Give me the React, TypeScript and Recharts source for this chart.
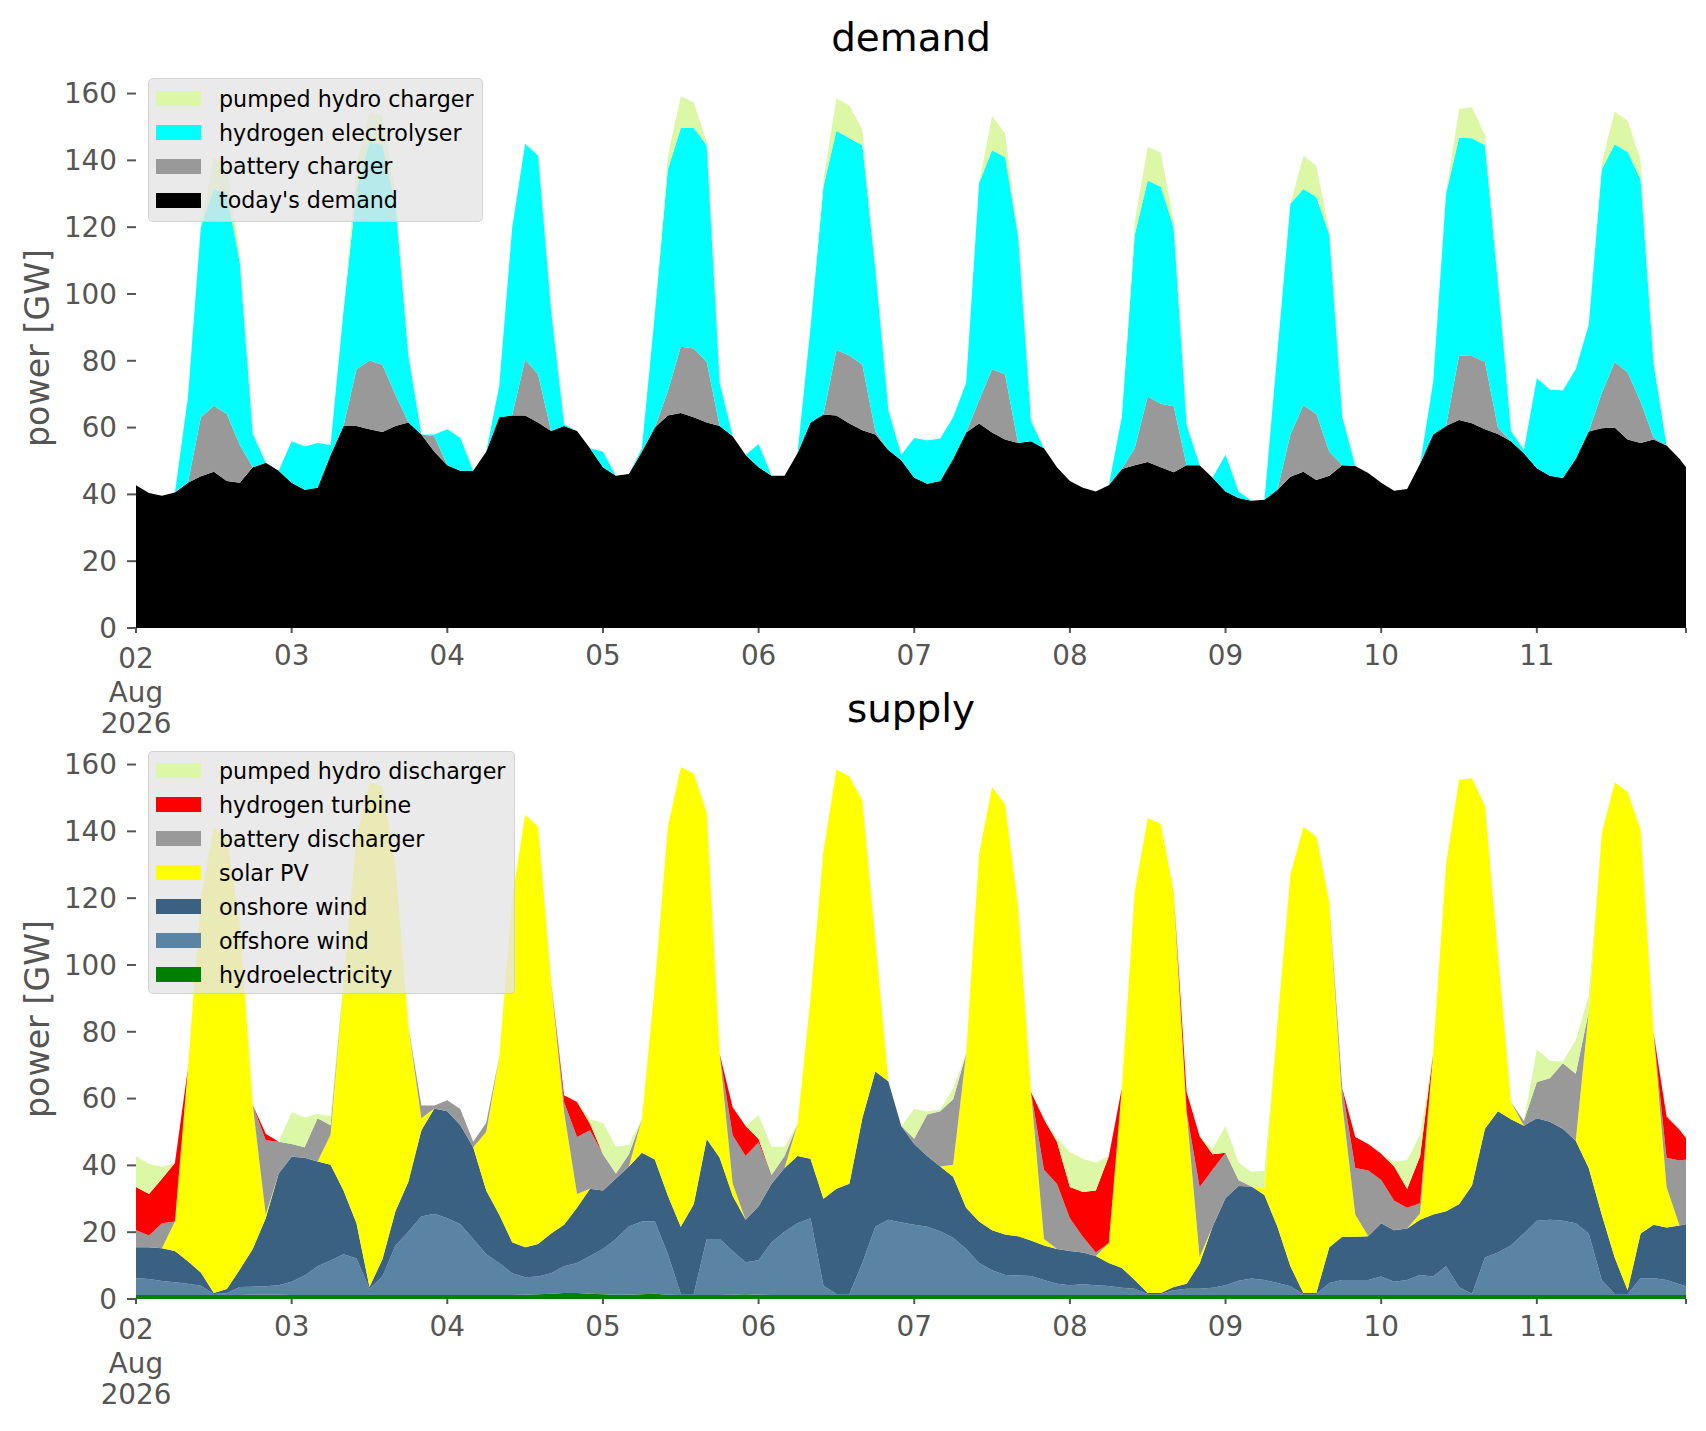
import React from 'react';
import { AreaChart, Area, XAxis, YAxis } from 'recharts';

// hourly samples (every 2 h) from 02 Aug 00:00 to 11 Aug 23:00
const hours = Array.from({ length: 120 }, (_, i) => i * 2).concat([239]);

const dayTicks = [0, 24, 48, 72, 96, 120, 144, 168, 192, 216, 239];
const dayLabels = ['02', '03', '04', '05', '06', '07', '08', '09', '10', '11', ''];
const firstTickExtra = ['Aug', '2026'];
const yTicks = [0, 20, 40, 60, 80, 100, 120, 140, 160];

// demand side [GW]
const todaysDemand = [
  42.7, 40.4, 39.6, 40.6, 43.5, 45.4, 46.8, 44, 43.5, 48.1,
  49.5, 47.1, 43.5, 41.4, 42, 51.8, 60.5, 60.5, 59.5, 58.7,
  60.5, 61.5, 57.9, 52.8, 48.7, 47.1, 47.1, 52.8, 63.1, 63.6,
  63.6, 61.5, 59, 60.5, 59, 53.8, 48.1, 45.6, 46.1, 52.8,
  60, 63.6, 64.4, 63.1, 61.5, 60.5, 57.4, 51.8, 48.1, 45.6,
  45.6, 52.3, 61.5, 63.9, 63.6, 61.2, 59.2, 57.9, 53.3, 50.2,
  45, 43.2, 44, 50.7, 58.5, 61.2, 58.5, 56.4, 55.4, 55.9,
  53.8, 48.1, 44, 42, 40.9, 42.7, 47.6, 48.7, 49.7, 48.1,
  46.6, 48.7, 48.7, 45, 40.9, 38.9, 38.1, 38.4, 41.4, 45.3,
  46.8, 44.3, 45.6, 48.7, 48.5, 46.4, 43.5, 41.1, 41.6, 49.2,
  57.9, 60.5, 62.3, 61.3, 59.5, 58.1, 55.9, 52.3, 47.8, 45.6,
  44.9, 50.7, 58.8, 59.8, 60, 56.4, 55.4, 56.4, 54.6, 50.7,
  48.1,
];
const batteryCharger = [
  0, 0, 0, 0, 0, 17.7, 19.7, 20.1, 11.3, 0,
  0, 0, 0, 0, 0, 0, 0, 17, 20.6, 20.1,
  9.3, 0, 0, 4.6, 0, 0, 0, 0, 0, 0,
  16.8, 14.5, 0, 0, 0, 0, 0, 0, 0, 0,
  0, 7.2, 19.8, 20.6, 18.1, 0, 0, 0, 0, 0,
  0, 0, 0, 0, 19.6, 20.4, 19.6, 1, 0, 0,
  0, 0, 0, 0, 0, 7, 19, 19.6, 0, 0,
  0, 0, 0, 0, 0, 0, 0, 5.1, 19.6, 19,
  19.8, 0, 0, 0, 0, 0, 0, 0, 0, 12.6,
  19.9, 19.8, 7.2, 0, 0, 0, 0, 0, 0, 0,
  0, 0, 19.3, 20.1, 20.1, 1.9, 0, 0, 0, 0,
  0, 0, 0, 10.5, 19.6, 20.1, 12.3, 0.6, 0, 0,
  0,
];
const electrolyser = [
  0, 0, 0, 0, 25.5, 57, 65, 65.9, 54.7, 10,
  0, 0, 12.4, 12.9, 13.4, 3, 34.5, 53.8, 65.5, 65.7,
  57.2, 20, 0, 0.5, 10.8, 9.8, 0, 0, 9.3, 56.2,
  64.6, 65.4, 36, 0.5, 0, 0, 4.7, 0, 0, 1,
  34, 66.5, 65.5, 66, 64.9, 12.9, 0, 0, 7, 0,
  0, 0, 28.4, 68.3, 65.7, 65, 65.7, 48.4, 11.9, 1.6,
  11.9, 12.9, 12.7, 12.4, 14.9, 65, 65.5, 64.9, 62, 6,
  0, 0, 0, 0, 0, 0, 15.5, 63.9, 64.7, 65,
  53.4, 12, 0, 0, 11, 2, 0, 0, 41.3, 69.1,
  64.7, 64.9, 64.9, 14.4, 0, 0, 0, 0, 0, 0,
  15.5, 69.5, 65.2, 65.2, 64.9, 43.3, 3.1, 1, 27, 25.7,
  26.2, 26.8, 32, 67, 65.2, 66, 66.5, 22.2, 0, 0,
  0,
];
const pumpedCharger = [
  0, 0, 0, 0, 0, 0, 9.5, 8, 3, 0,
  0, 0, 0, 0, 0, 0, 0, 7, 9, 9,
  3, 0, 0, 0, 0, 0, 0, 0, 0, 0,
  0, 0, 0, 0, 0, 0, 0, 0, 0, 0,
  0, 4, 9.5, 7.7, 1, 0, 0, 0, 0, 0,
  0, 0, 0, 2, 9.6, 9.8, 4.7, 0, 0, 0,
  0, 0, 0, 0, 0, 0, 10.3, 7.2, 0, 0,
  0, 0, 0, 0, 0, 0, 0, 4, 10, 10.3,
  2, 0, 0, 0, 0, 0, 0, 0, 0, 0,
  10, 9.4, 1, 0, 0, 0, 0, 0, 0, 0,
  0, 0, 8.6, 9.3, 3.1, 0, 0, 0, 0, 0,
  0, 0, 0, 2, 9.8, 9.3, 6, 1, 0, 0,
  0,
];

// supply side [GW]
const hydro = [
  1.2, 1.2, 1.2, 1.2, 1.2, 1.2, 1.2, 1.2, 1.2, 1.3,
  1.3, 1.3, 1.2, 1.2, 1.2, 1.2, 1.2, 1.2, 1.2, 1.2,
  1.2, 1.2, 1.2, 1.2, 1.2, 1.2, 1.2, 1.2, 1.2, 1.2,
  1.3, 1.4, 1.6, 1.8, 1.8, 1.6, 1.4, 1.3, 1.3, 1.4,
  1.6, 1.3, 1.2, 1.2, 1.2, 1.2, 1.3, 1.4, 1.3, 1.2,
  1.2, 1.2, 1.2, 1.2, 1.2, 1.2, 1.2, 1.2, 1.2, 1.2,
  1.2, 1.2, 1.2, 1.2, 1.2, 1.2, 1.2, 1.2, 1.2, 1.2,
  1.2, 1.2, 1.2, 1.2, 1.2, 1.2, 1.2, 1.2, 1.2, 1.2,
  1.2, 1.2, 1.2, 1.2, 1.2, 1.2, 1.2, 1.2, 1.2, 1.2,
  1.2, 1.2, 1.2, 1.2, 1.2, 1.2, 1.2, 1.2, 1.2, 1.2,
  1.2, 1.2, 1.2, 1.2, 1.2, 1.2, 1.2, 1.2, 1.2, 1.2,
  1.2, 1.2, 1.2, 1.2, 1.2, 1.2, 1.2, 1.2, 1.2, 1.2,
  1.2,
];
const offshoreWind = [
  5.0, 4.8, 4.2, 3.8, 3.4, 2.8, 0.3, 0.5, 2.4, 2.4,
  2.5, 2.8, 4.0, 5.8, 8.6, 10.3, 12.2, 10.9, 1.9, 5.5,
  14.8, 18.9, 23.5, 24.3, 23.0, 21.2, 16.8, 12.2, 9.6, 6.5,
  5.2, 5.3, 6.1, 8.0, 9.0, 11.3, 13.6, 16.7, 20.4, 21.8,
  21.6, 12.2, 0.3, 0.3, 16.8, 16.8, 13.1, 9.6, 10.3, 15.8,
  18.9, 21.5, 23.0, 2.8, 0.3, 0.3, 9.6, 20.4, 22.5, 21.7,
  21.0, 20.4, 19.1, 17.1, 13.8, 9.6, 7.4, 6.0, 5.8, 5.7,
  4.5, 3.4, 2.9, 3.2, 2.9, 2.7, 2.2, 1.9, 0.3, 0.3,
  1.4, 1.9, 1.9, 2.2, 2.9, 4.3, 4.9, 4.5, 3.6, 2.6,
  0.3, 0.3, 3.6, 4.5, 4.5, 4.5, 5.5, 4.0, 4.5, 6.0,
  5.5, 8.6, 2.4, 0.3, 11.2, 12.7, 14.8, 18.4, 22.2, 22.5,
  22.2, 21.5, 18.4, 4.5, 0.3, 0.3, 5.0, 5.0, 4.5, 3.2,
  2.6,
];
const onshoreWind = [
  9.3, 9.5, 9.8, 9.4, 6.7, 3.9, 0.3, 1.3, 5.2, 11.3,
  20.4, 33.5, 37.4, 35.3, 31.4, 28.7, 19.1, 10.6, 0.5, 5.2,
  10.3, 15, 25.8, 31.5, 32, 29.7, 27.4, 19.1, 14.5, 9.3,
  9, 9.8, 11.9, 12.4, 16.5, 20.1, 17.5, 18.1, 18, 20.6,
  18.6, 17.5, 20.1, 26.9, 29.9, 24.3, 16.5, 12.7, 16.2, 17.5,
  19.1, 20.1, 17.8, 26, 31.5, 33, 43.4, 46.5, 41.5, 28.9,
  24.2, 21.2, 19.4, 18.3, 12.3, 12.4, 12, 12.1, 11.8, 10.6,
  10.3, 10.4, 10.3, 9.5, 8.8, 6.9, 5.9, 2.6, 0.3, 0.3,
  1, 1.5, 7.5, 18.2, 26.1, 28.3, 27.6, 25.4, 16.8, 6,
  0.3, 0.3, 10.7, 12.9, 12.9, 13.1, 16, 15.4, 15.4, 16.5,
  18.6, 16.5, 24.8, 32.5, 38.6, 42.3, 37.8, 32.3, 30.7, 29.4,
  27.6, 24.7, 19.6, 19.6, 10.9, 1.1, 13.4, 16, 15.7, 17.6,
  18.6,
];
const solarPV = [
  0, 0, 0, 8.8, 57.7, 112.1, 139.5, 135, 103.7, 43.1,
  1, 0, 0, 0, 0, 9, 62.5, 115.6, 151, 141.7,
  103.7, 46.4, 3.6, 0, 0, 0, 0, 17.5, 47.1, 102.8,
  129.5, 124.9, 75.4, 33.8, 4.1, 0, 0, 0, 0, 10,
  52.2, 110.3, 137.6, 128.9, 97.7, 31.1, 3.6, 0, 0, 0,
  0, 9.5, 47.9, 104.2, 125.5, 121.9, 95, 39.2, 0, 0,
  0, 0, 0, 3.6, 46.1, 110, 132.7, 128.8, 98.9, 44.5,
  2, 0, 0, 0, 0, 6, 53.8, 116.2, 142.2, 140.5,
  118.3, 51.4, 2, 0, 0, 0, 0, 2, 61.1, 117.2,
  139.6, 136.6, 103.2, 39.6, 6.7, 0, 0, 0, 0, 2,
  48.1, 103.7, 127, 121.9, 96.6, 47.1, 5.2, 0, 0, 0,
  0, 0, 46.8, 114, 142.2, 149.2, 120.8, 57.4, 12.1, 0,
  0,
];
const batteryDischarger = [
  5.1, 3.5, 7.5, 0, 0, 0, 0, 0, 0, 0,
  22.3, 9.5, 3.8, 3.1, 12.9, 2.8, 0, 0, 0, 0,
  0, 0, 3.8, 0.9, 3.3, 4.8, 1.7, 2.8, 0, 0,
  0, 0, 0, 3, 17.1, 17.5, 10.8, 1.5, 3.6, 0,
  0, 0, 0, 0, 0, 0, 14.5, 19.1, 19.1, 2.6,
  3.6, 0, 0, 0, 0, 0, 0, 0, 0, 0,
  1.6, 12.4, 16.5, 19.6, 0, 0, 0, 0, 0, 0,
  20.7, 19.5, 9.8, 4.7, 1, 0, 0, 0, 0, 0,
  0, 0, 20.9, 17.1, 13.6, 1.8, 0, 0, 0, 0,
  0, 0, 0, 4.9, 13.9, 19.7, 12.9, 8.8, 6.2, 3,
  0, 0, 0, 0, 0, 0, 0, 1.4, 10.9, 13,
  19.6, 20, 0, 0, 0, 0, 0, 0, 8.8, 19.5,
  19.4,
];
const hydrogenTurbine = [
  12.9, 12.4, 13.3, 17.5, 0, 0, 0, 0, 0, 0,
  2, 0, 0, 0, 0, 0, 0, 0, 0, 0,
  0, 0, 0, 0, 0, 0, 0, 0, 0, 0,
  0, 0, 0, 2, 10.5, 2, 0, 0, 0, 0,
  0, 0, 0, 0, 0, 0, 8.4, 9, 1, 0,
  0, 0, 0, 0, 0, 0, 0, 0, 0, 0,
  0, 0, 0, 0, 0, 0, 0, 0, 0, 0,
  15.1, 12.6, 9.3, 13.4, 18.6, 25.9, 0, 0, 0, 0,
  0, 6, 15.2, 4.6, 0, 0, 0, 0, 0, 0,
  0, 0, 0, 0, 9.3, 7.9, 7.9, 10.3, 5.6, 14,
  0, 0, 0, 0, 0, 0, 0, 0, 0, 0,
  0, 0, 0, 0, 0, 0, 0, 0, 12.3, 9.2,
  6.3,
];
const pumpedDischarger = [
  9.3, 9, 3.6, 0, 0, 0, 0, 0, 0, 0,
  0, 0, 9.5, 8.9, 1.3, 2.8, 0, 0, 0, 0,
  0, 0, 0, 0, 0, 0, 0, 0, 0, 0,
  0, 0, 0, 0, 0, 1.3, 9.5, 8, 2.8, 0,
  0, 0, 0, 0, 0, 0, 0, 0, 7.2, 8.5,
  2.8, 0, 0, 0, 0, 0, 0, 0, 0, 0,
  8.9, 0.9, 0.5, 3.3, 0, 0, 0, 0, 0, 0,
  0, 1, 10.5, 10, 8.4, 0, 0, 0, 0, 0,
  0, 0, 0, 1.7, 8, 5.3, 4.4, 5.3, 0, 0,
  0, 0, 0, 0, 0, 0, 0, 1.4, 8.7, 6.5,
  0, 0, 0, 0, 0, 0, 0, 0, 9.8, 5.2,
  0.5, 10.1, 4.9, 0, 0, 0, 0, 0, 0, 0,
  0,
];

const demandData = hours.map((hour, i) => ({
  hour,
  demand: todaysDemand[i],
  battery: batteryCharger[i],
  electrolyser: electrolyser[i],
  pumped: pumpedCharger[i],
}));

const supplyData = hours.map((hour, i) => ({
  hour,
  hydro: hydro[i],
  offshore: offshoreWind[i],
  onshore: onshoreWind[i],
  solar: solarPV[i],
  battery: batteryDischarger[i],
  turbine: hydrogenTurbine[i],
  pumped: pumpedDischarger[i],
}));

const FONT = '"DejaVu Sans", sans-serif';
const TICK_GREY = '#555555';

const demandSeries = [
  { key: 'demand', name: "today's demand", color: '#000000' },
  { key: 'battery', name: 'battery charger', color: '#999999' },
  { key: 'electrolyser', name: 'hydrogen electrolyser', color: '#00ffff' },
  { key: 'pumped', name: 'pumped hydro charger', color: '#dcf7a6' },
];

const supplySeries = [
  { key: 'hydro', name: 'hydroelectricity', color: '#008000' },
  { key: 'offshore', name: 'offshore wind', color: '#5b83a4' },
  { key: 'onshore', name: 'onshore wind', color: '#3b6182' },
  { key: 'solar', name: 'solar PV', color: '#ffff00' },
  { key: 'battery', name: 'battery discharger', color: '#999999' },
  { key: 'turbine', name: 'hydrogen turbine', color: '#ff0000' },
  { key: 'pumped', name: 'pumped hydro discharger', color: '#dcf7a6' },
];

const DayTick = (props: any) => {
  const { x, y, payload } = props;
  const idx = dayTicks.indexOf(payload.value);
  const label = idx >= 0 ? dayLabels[idx] : '';
  return (
    <text x={x} y={y} textAnchor="middle" fill={TICK_GREY} fontSize={27.8} fontFamily={FONT}>
      {idx === 0 ? (
        <>
          <tspan x={x} dy={35}>{label}</tspan>
          <tspan x={x} dy={34}>{firstTickExtra[0]}</tspan>
          <tspan x={x} dy={31}>{firstTickExtra[1]}</tspan>
        </>
      ) : (
        <tspan x={x} dy={32}>{label}</tspan>
      )}
    </text>
  );
};

const StackChart = ({ data, series }: { data: any[]; series: { key: string; name: string; color: string }[] }) => (
  <AreaChart width={1706} height={760} data={data} margin={{ top: 67.5, right: 20, left: 0, bottom: 0 }}>
    <XAxis
      dataKey="hour"
      type="number"
      domain={[0, 239]}
      ticks={dayTicks}
      interval={0}
      height={132}
      tickSize={5}
      tickMargin={0}
      axisLine={false}
      tickLine={{ stroke: TICK_GREY, strokeWidth: 2 }}
      tick={<DayTick />}
    />
    <YAxis
      type="number"
      domain={[0, 167.8]}
      ticks={yTicks}
      width={136}
      tickSize={9}
      tickMargin={10}
      axisLine={false}
      tickLine={{ stroke: TICK_GREY, strokeWidth: 2 }}
      tick={{ fill: TICK_GREY, fontSize: 27.8, fontFamily: FONT }}
    />
    {series.map((s) => (
      <Area
        key={s.key}
        type="linear"
        dataKey={s.key}
        name={s.name}
        stackId="stack"
        fill={s.color}
        fillOpacity={1}
        stroke="none"
        isAnimationActive={false}
      />
    ))}
  </AreaChart>
);

const LegendBox = ({ items, left, top, width, height, first, step }: any) => (
  <div
    style={{
      position: 'absolute',
      left,
      top,
      width,
      height,
      boxSizing: 'border-box',
      background: 'rgba(229,229,229,0.8)',
      border: '1.5px solid rgba(204,204,204,0.8)',
      borderRadius: 5,
      fontFamily: FONT,
    }}
  >
    {items.map((it: any, i: number) => (
      <div key={it.name} style={{ position: 'absolute', left: 0, top: first + i * step - 15, height: 30, width: '100%' }}>
        <div style={{ position: 'absolute', left: 7, top: 7.5, width: 45, height: 15, background: it.color }} />
        <div style={{ position: 'absolute', left: 70, top: 0, lineHeight: '30px', fontSize: 22.2, color: '#000', whiteSpace: 'nowrap' }}>
          {it.name}
        </div>
      </div>
    ))}
  </div>
);

export default function App() {
  return (
    <div style={{ position: 'absolute', left: 0, top: 0, width: 1706, height: 1431, background: '#ffffff', overflow: 'hidden' }}>
      <div style={{ position: 'absolute', left: 0, top: 0 }}>
        <StackChart data={demandData} series={demandSeries} />
      </div>
      <div style={{ position: 'absolute', left: 0, top: 671 }}>
        <StackChart data={supplyData} series={supplySeries} />
      </div>
      <svg width={1706} height={1431} style={{ position: 'absolute', left: 0, top: 0, pointerEvents: 'none' }}>
        <text x={911} y={51} textAnchor="middle" fontSize={38.9} fontFamily={FONT} fill="#000">demand</text>
        <text x={911} y={722} textAnchor="middle" fontSize={38.9} fontFamily={FONT} fill="#000">supply</text>
        <text transform="translate(49,348) rotate(-90)" textAnchor="middle" fontSize={33.3} fontFamily={FONT} fill={TICK_GREY}>power [GW]</text>
        <text transform="translate(49,1019) rotate(-90)" textAnchor="middle" fontSize={33.3} fontFamily={FONT} fill={TICK_GREY}>power [GW]</text>
      </svg>
      <LegendBox items={[...demandSeries].reverse()} left={148} top={78} width={335} height={144} first={19.7} step={33.8} />
      <LegendBox items={[...supplySeries].reverse()} left={148} top={751} width={367} height={243} first={18.5} step={34} />
    </div>
  );
}
